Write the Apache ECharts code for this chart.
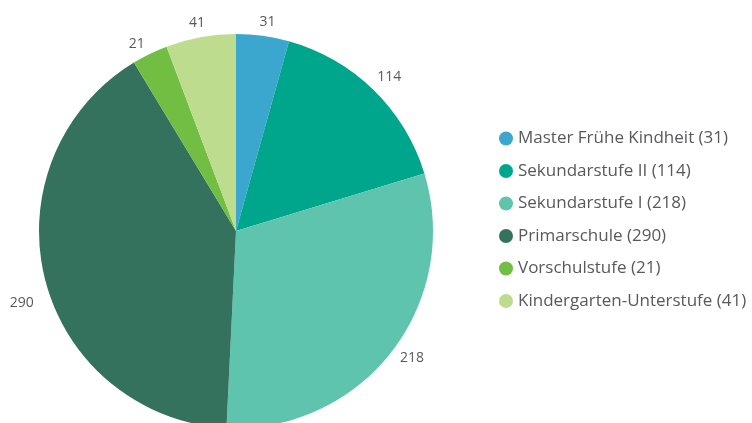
<!DOCTYPE html>
<html><head><meta charset="utf-8">
<script src="https://cdn.jsdelivr.net/npm/echarts@6/dist/echarts.min.js"></script>
<style>html,body{margin:0;padding:0;background:#fff}#c{width:752px;height:423px}</style>
</head><body><div id="c"></div>
<script>
const categories = ["Master Frühe Kindheit", "Sekundarstufe II", "Sekundarstufe I", "Primarschule", "Vorschulstufe", "Kindergarten-Unterstufe"];
const values = [31, 114, 218, 290, 21, 41];
const colors = ["#3ba7cf", "#00a68b", "#5ec4ae", "#34725e", "#71be42", "#bddc8e"];
// label nudges (style only), in px
const labelNudge = [[2, 7], [1, 2], [4, -7], [-3, 18], [-4, 9], [0, 6]];

const data = categories.map((n, i) => ({ name: n, value: values[i], itemStyle: { color: colors[i] } }));
const labelData = categories.map((n, i) => ({
  name: n, value: values[i], itemStyle: { color: 'rgba(0,0,0,0)' },
  label: { offset: labelNudge[i] }
}));
const font = '"Open Sans", sans-serif';
const chart = echarts.init(document.getElementById('c'));
chart.setOption({
  animation: false,
  legend: {
    orient: 'vertical', left: 494, top: 125,
    icon: 'circle', itemWidth: 14, itemHeight: 14, itemGap: 15.5,
    data: categories,
    formatter: function (name) { return name + ' (' + values[categories.indexOf(name)] + ')'; },
    textStyle: { fontFamily: font, fontSize: 17, color: '#58595b' }
  },
  series: [
    {
      type: 'pie', center: [236, 231], radius: 197, startAngle: 90, clockwise: true,
      data: data, label: { show: false }, labelLine: { show: false },
      itemStyle: { borderWidth: 0 }, emphasis: { disabled: true }, silent: true
    },
    {
      type: 'pie', center: [236, 231], radius: [212, 218], startAngle: 90, clockwise: true,
      data: labelData, silent: true, emphasis: { disabled: true },
      label: { show: true, position: 'inside', formatter: '{c}', fontFamily: font, fontSize: 14, color: '#58595b' },
      labelLine: { show: false }
    }
  ]
});
</script></body></html>
